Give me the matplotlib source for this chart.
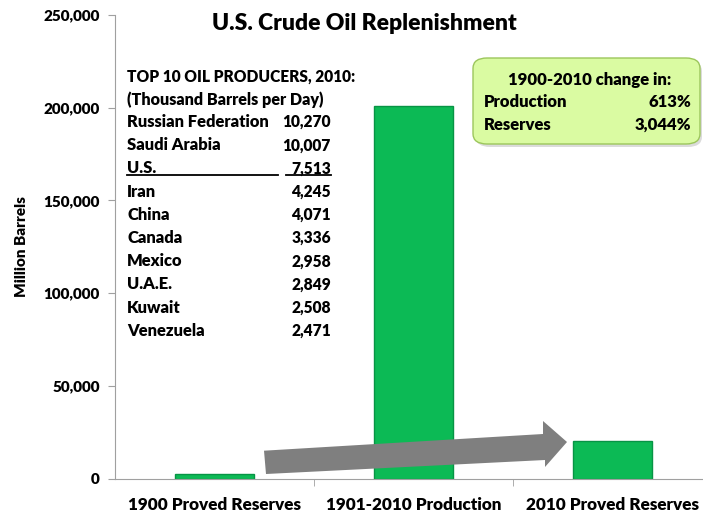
import matplotlib
matplotlib.use("Agg")
import matplotlib.pyplot as plt
from matplotlib.patches import FancyBboxPatch, Polygon
from matplotlib.lines import Line2D
from matplotlib.ticker import FuncFormatter

plt.rcParams['font.family'] = ['Lato', 'DejaVu Sans']
BW = "heavy"
plt.rcParams['font.weight'] = BW

# data
categories = ["1900 Proved Reserves", "1901-2010 Production", "2010 Proved Reserves"]
values = [2400, 201000, 20100]
producers = ["Russian Federation", "Saudi Arabia", "U.S.", "Iran", "China",
             "Canada", "Mexico", "U.A.E.", "Kuwait", "Venezuela"]
output = ["10,270", "10,007", "7,513", "4,245", "4,071",
          "3,336", "2,958", "2,849", "2,508", "2,471"]
change_labels = ["Production", "Reserves"]
change_values = ["613%", "3,044%"]

W, H = 703, 516
fig = plt.figure(figsize=(W / 100, H / 100), dpi=100)

def fx(px):
    return px / W

def fy(py):
    return 1 - py / H

ax = fig.add_axes([fx(115), fy(478.5), (W - 115) / W, (478.5 - 15) / H])
ax.bar(range(3), values, width=0.4, color="#0CBA55", edgecolor="#079445", linewidth=1, zorder=2)
ax.set_xlim(-0.5, 2.455)
ax.set_ylim(0, 250000)
ax.set_yticks(range(0, 250001, 50000))
ax.yaxis.set_major_formatter(FuncFormatter(lambda v, p: f"{int(v):,}"))
ax.set_xticks([0, 1, 2])
ax.set_xticklabels(categories, fontsize=12.3, fontweight=BW)
ax.set_xticks([0.5, 1.5], minor=True)
ax.tick_params(axis="x", which="major", length=0, pad=13)
ax.tick_params(axis="x", which="minor", length=5, color="#A0A0A0")
ax.tick_params(axis="y", length=5, color="#A0A0A0", labelsize=11, pad=6)
for lab in ax.get_yticklabels():
    lab.set_fontweight(BW)
for s in ["top", "right"]:
    ax.spines[s].set_visible(False)
for s in ["left", "bottom"]:
    ax.spines[s].set_color("#A0A0A0")
ax.set_ylabel("Million Barrels", fontsize=11, fontweight=BW, labelpad=11)

# title
fig.text(fx(364), fy(23), "U.S. Crude Oil Replenishment", fontsize=16.5, fontweight=BW,
         ha="center", va="center")

# producers table
fs = 11.2
fig.text(fx(127), fy(77), "TOP 10 OIL PRODUCERS, 2010:", fontsize=fs, fontweight=BW, va="center")
fig.text(fx(127), fy(99.5), "(Thousand Barrels per Day)", fontsize=11.6, fontweight=BW, va="center")
y0, dy = 122, 23.2
for i, (name, val) in enumerate(zip(producers, output)):
    y = y0 + i * dy
    fig.text(fx(127), fy(y), name, fontsize=11.9, fontweight=BW, va="center")
    fig.text(fx(331), fy(y), val, fontsize=fs, fontweight=BW, va="center", ha="right")
fig.add_artist(Line2D([fx(127), fx(278)], [fy(175.5), fy(175.5)], color="black", lw=1.3))
fig.add_artist(Line2D([fx(286), fx(331)], [fy(175.5), fy(175.5)], color="black", lw=1.3))

# change box
shadow = FancyBboxPatch((fx(476), fy(147)), fx(702) - fx(476), fy(61) - fy(147),
                        boxstyle="round,pad=0,rounding_size=0.02", transform=fig.transFigure,
                        facecolor="#B8B8B8", edgecolor="none", alpha=0.5)
fig.add_artist(shadow)
box = FancyBboxPatch((fx(473), fy(144)), fx(700) - fx(473), fy(58) - fy(144),
                     boxstyle="round,pad=0,rounding_size=0.02", transform=fig.transFigure,
                     facecolor="#DAFBA2", edgecolor="#9CC65C", lw=1)
fig.add_artist(box)
fig.text(fx(590), fy(80), "1900-2010 change in:", fontsize=12, fontweight=BW, ha="center", va="center")
for i, (lab, val) in enumerate(zip(change_labels, change_values)):
    y = 102 + i * 23
    fig.text(fx(484), fy(y), lab, fontsize=12, fontweight=BW, va="center")
    fig.text(fx(691), fy(y), val, fontsize=12, fontweight=BW, va="center", ha="right")

# arrow
arrow_px = [(264, 450.7), (543, 434), (543, 421), (567, 442), (545, 467), (545, 460), (266, 474)]
arrow = Polygon([(fx(x), fy(y)) for x, y in arrow_px], closed=True, transform=fig.transFigure,
                facecolor="#7F7F7F", edgecolor="none")
fig.add_artist(arrow)

fig.savefig("out.png", dpi=100)
